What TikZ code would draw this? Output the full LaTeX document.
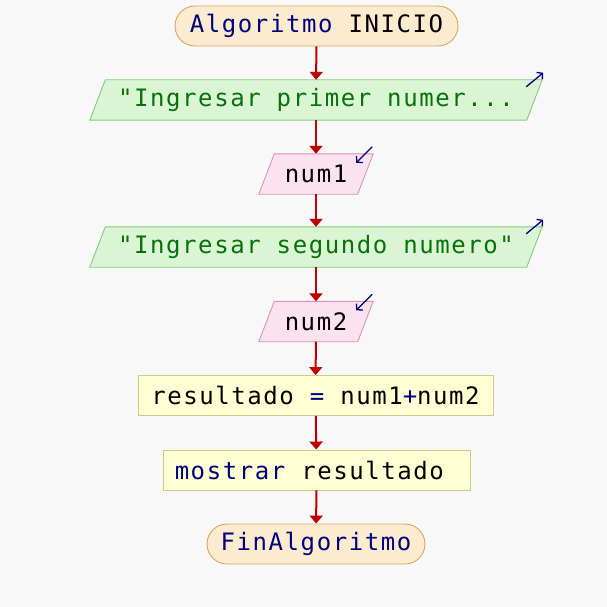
\documentclass[tikz,border=0pt]{standalone}
\usepackage{fontspec}
\setmonofont[LetterSpace=6.5]{DejaVu Sans Mono}
\usetikzlibrary{arrows.meta,calc}

\definecolor{pagebg}{HTML}{F8F8F8}
\definecolor{termfill}{HTML}{FDEBCF}
\definecolor{termline}{HTML}{D6A65E}
\definecolor{infill}{HTML}{DAF5D4}
\definecolor{inline}{HTML}{86C97E}
\definecolor{rdfill}{HTML}{FCE2EE}
\definecolor{rdline}{HTML}{D895B4}
\definecolor{procfill}{HTML}{FFFFD4}
\definecolor{procline}{HTML}{CCCC86}
\definecolor{flow}{HTML}{C00000}
\definecolor{kw}{HTML}{00007F}
\definecolor{strcol}{HTML}{087208}

\pgfdeclarelayer{shapes}
\pgfsetlayers{shapes,main}

% parallelogram drawn behind a (borderless) node of the same bounding box
\newcommand\drawpara[3]{%
  \begin{pgfonlayer}{shapes}
    \draw[line width=0.9pt,draw=#2,fill=#3]
      ([xshift=15.5pt]#1.north west) -- (#1.north east)
      -- ([xshift=-15.5pt]#1.south east) -- (#1.south west) -- cycle;
  \end{pgfonlayer}}

\begin{document}
\begin{tikzpicture}[x=1pt,y=-1pt,
  every node/.style={font=\fontsize{24pt}{30pt}\ttfamily, inner sep=0pt},
  terminal/.style={draw=termline, fill=termfill, line width=0.9pt,
    rounded corners=20pt, minimum width=#1, minimum height=40pt},
  parabox/.style={minimum width=#1, minimum height=40pt},
  procbox/.style={draw=procline, fill=procfill, line width=0.9pt,
    minimum width=#1, minimum height=40pt},
  flowarrow/.style={draw=flow, line width=2pt,
    -{Triangle[length=8pt,width=13pt]}},
  iconarrow/.style={draw=kw, line width=1.3pt,
    -{Straight Barb[length=4pt,width=9pt]}}
]
\begin{pgfonlayer}{shapes}
  \fill[pagebg] (0,0) rectangle (607,607);
\end{pgfonlayer}
\useasboundingbox (0,0) rectangle (607,607);

% flowchart blocks
\node[terminal=283pt] (start) at (316.5,26)
  {\textcolor{kw}{Algoritmo} INICIO};

\node[parabox=452pt] (p1) at (316,100)
  {\textcolor{strcol}{"Ingresar primer numer...}};
\drawpara{p1}{inline}{infill}

\node[parabox=114pt] (n1) at (316,174) {num1};
\drawpara{n1}{rdline}{rdfill}

\node[parabox=452pt] (p2) at (316,247)
  {\textcolor{strcol}{"Ingresar segundo numero"}};
\drawpara{p2}{inline}{infill}

\node[parabox=114pt] (n2) at (316,321.5) {num2};
\drawpara{n2}{rdline}{rdfill}

\node[procbox=355pt] (res) at (315.5,395.5)
  {resultado \textcolor{kw}{=} num1\textcolor{kw}{+}num2};

\node[procbox=307pt] (show) at (316.5,470)
  {\textcolor{kw}{mostrar} resultado\hphantom{x}};

\node[terminal=218pt] (fin) at (316,544) {\textcolor{kw}{FinAlgoritmo}};

% flow connectors
\draw[flowarrow] (start) -- (p1);
\draw[flowarrow] (p1) -- (n1);
\draw[flowarrow] (n1) -- (p2);
\draw[flowarrow] (p2) -- (n2);
\draw[flowarrow] (n2) -- (res);
\draw[flowarrow] (res) -- (show);
\draw[flowarrow] (show) -- (fin);

% input/output markers
\draw[iconarrow] ($(p1.north east)+(-16,7)$) -- ($(p1.north east)+(1,-7)$);
\draw[iconarrow] ($(p2.north east)+(-16,7)$) -- ($(p2.north east)+(1,-7)$);
\draw[iconarrow] ($(n1.north east)+(-1,-7)$) -- ($(n1.north east)+(-17,9)$);
\draw[iconarrow] ($(n2.north east)+(-1,-7)$) -- ($(n2.north east)+(-17,9)$);
\end{tikzpicture}
\end{document}
